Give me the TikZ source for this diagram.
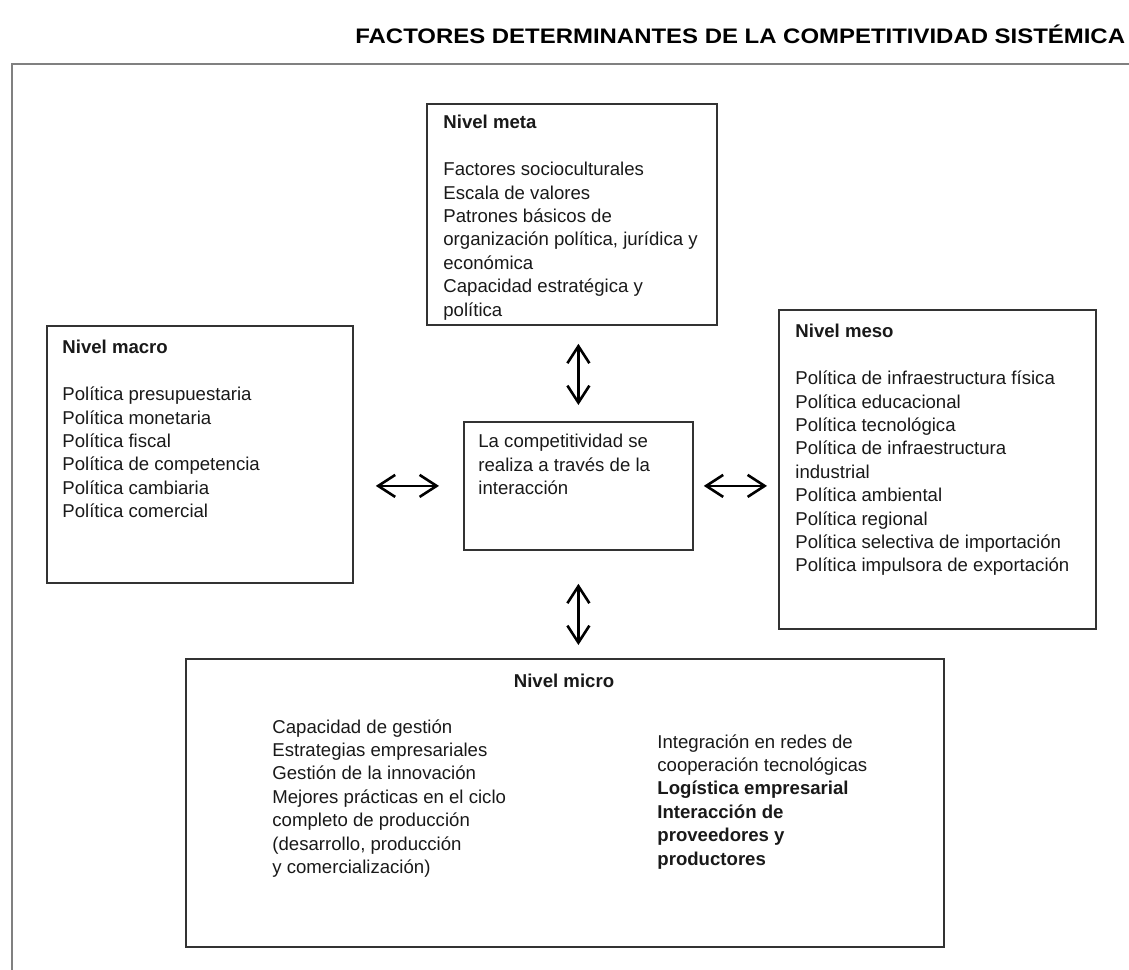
\documentclass[tikz,border=0pt]{standalone}
\usepackage{graphicx}
\usepackage{fontspec}
\setmainfont{Liberation Sans}
\usetikzlibrary{arrows.meta}
\begin{document}
\begin{tikzpicture}[x=0.5pt,y=-0.5pt,
	caja/.style={draw=black!80,line width=0.9pt,anchor=north west,inner sep=0pt},
	texto/.style={anchor=north west,align=left,inner sep=0pt,font=\fontsize{9.3}{11.7}\selectfont,text=black!90},
	flecha/.style={{Straight Barb[length=8.5pt,width=11pt]}-{Straight Barb[length=8.5pt,width=11pt]},line width=1.3pt}]
	\useasboundingbox (0,0) rectangle (1129,969);
	\draw[black!50,line width=1.2pt] (12,990) -- (12,64) -- (1150,64);
	\node[anchor=base west,inner sep=0pt,font=\bfseries\fontsize{10.5}{12}\selectfont] (titulo) at (355,43) {\scalebox{1.14}[1]{FACTORES DETERMINANTES DE LA COMPETITIVIDAD SIST\'EMICA}};
	\node[caja,minimum width=145pt,minimum height=110.5pt] (meta) at (426,103) {};
	\node[texto] (metatxt) at (443,115) {\textbf{Nivel meta}\\[11.7pt]
		Factores socioculturales\\ Escala de valores\\ Patrones básicos de\\
		organización política, jurídica y\\ económica\\ Capacidad estratégica y\\ política};
	\node[caja,minimum width=153pt,minimum height=128.5pt] (macro) at (46,325) {};
	\node[texto] (macrotxt) at (62,340) {\textbf{Nivel macro}\\[11.7pt]
		Política presupuestaria\\ Política monetaria\\ Política fiscal\\
		Política de competencia\\ Política cambiaria\\ Política comercial};
	\node[caja,minimum width=158.5pt,minimum height=159.5pt] (meso) at (778,309) {};
	\node[texto] (mesotxt) at (795,324) {\textbf{Nivel meso}\\[11.7pt]
		Política de infraestructura física\\ Política educacional\\ Política tecnológica\\
		Política de infraestructura\\ industrial\\ Política ambiental\\ Política regional\\
		Política selectiva de importación\\ Política impulsora de exportación};
	\node[caja,minimum width=114.5pt,minimum height=64pt] (centro) at (463,421) {};
	\node[texto] (centrotxt) at (478,434) {La competitividad se\\ realiza a través de la\\ interacción};
	\node[caja,minimum width=379pt,minimum height=144pt] (micro) at (185,658) {};
	\node[texto,anchor=base] (microtit) at (564,687) {\textbf{Nivel micro}};
	\node[texto] (microizq) at (272,719) {Capacidad de gestión\\ Estrategias empresariales\\
		Gestión de la innovación\\ Mejores prácticas en el ciclo\\ completo de producción\\
		(desarrollo, producción\\ y comercialización)};
	\node[texto] (microder) at (657,734) {Integración en redes de\\ cooperación tecnológicas\\
		\textbf{Logística empresarial}\\ \textbf{Interacción de}\\ \textbf{proveedores y}\\ \textbf{productores}};
	\draw[flecha,shorten <=9pt,shorten >=8pt] (centro.north |- meta.south) -- (centro.north);
	\draw[flecha,shorten <=11pt,shorten >=12pt] (macro.east |- centro) -- (centro.west);
	\draw[flecha,shorten <=5pt,shorten >=5.5pt] (centro.east) -- (meso.west |- centro);
	\draw[flecha,shorten <=16.5pt,shorten >=6.5pt] (centro.south) -- (centro.south |- micro.north);
\end{tikzpicture}
\end{document}
